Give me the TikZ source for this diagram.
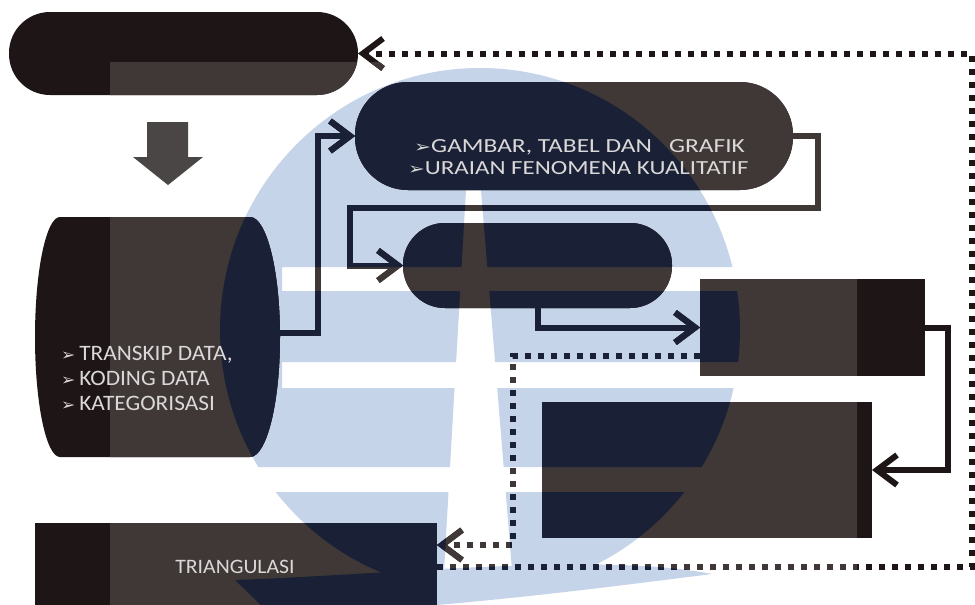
\documentclass[tikz,border=0pt]{standalone}
\usepackage{fontspec}
\setmainfont{Carlito}
\newfontfamily\dejavu{DejaVu Sans}
\usepackage{graphicx}
\usetikzlibrary{arrows.meta}
\definecolor{shK}{RGB}{30,21,22}
\definecolor{shG}{RGB}{63,56,55}
\definecolor{shN}{RGB}{26,33,54}
\definecolor{lblue}{RGB}{198,212,233}
\definecolor{arrgray}{RGB}{74,70,70}
\definecolor{txtc}{RGB}{218,216,216}
\tikzset{
  shapebox/.style={rectangle, inner sep=0pt, outer sep=0pt, draw=none},
  conn/.style={line width=6pt, -{Straight Barb[length=20pt,width=30pt]}},
  dotline/.style={line width=6pt, dash pattern=on 6pt off 7pt, -{Straight Barb[length=20pt,width=30pt]}},
  txt/.style={text=txtc, inner sep=0pt},
}
\newcommand\bul{{\dejavu\fontsize{16}{16}\selectfont ➢}}
\newcommand\logoslabs{%
  (200,55) rectangle (760,190)
  (200,190) -- (466,190) -- (461.5,267) -- (200,267) -- cycle
  (481,190) -- (760,190) -- (760,267) -- (487.3,267) -- cycle
  (200,267) rectangle (282,291)
  (200,291) -- (460.2,291) -- (456.1,362) -- (200,362) -- cycle
  (489.3,291) -- (760,291) -- (760,362) -- (495.1,362) -- cycle
  (200,362) rectangle (282,388)
  (200,388) -- (454.5,388) -- (450,467) -- (200,467) -- cycle
  (497.2,388) -- (760,388) -- (760,467) -- (503.7,467) -- cycle
  (200,492) -- (448.5,492) -- (441.7,612) -- (200,612) -- cycle
  (505.7,492) -- (760,492) -- (760,612) -- (515.4,612) -- cycle}
\newcommand\swooshpath{%
  (235,580) .. controls (400,574) and (600,552) .. (712,574)
  .. controls (600,588) and (420,612) .. (270,614) -- cycle}
\newcommand\drawdiagram[1]{%
  \node[shapebox, fill=#1, rounded corners=41pt, minimum width=349pt, minimum height=83pt] (top) at (183.5,53.5) {};
  \node[shapebox, fill=#1, rounded corners=53pt, minimum width=438pt, minimum height=108pt] (pill2) at (574,136) {};
  \node[shapebox, fill=#1, rounded corners=42pt, minimum width=269pt, minimum height=85pt] (pill3) at (537.5,265.5) {};
  \node[shapebox, fill=#1, minimum width=225pt, minimum height=97pt] (rect1) at (812.5,327.5) {};
  \node[shapebox, fill=#1, minimum width=330pt, minimum height=136pt] (box2) at (707,470) {};
  \node[shapebox, fill=#1, minimum width=402pt, minimum height=87pt] (tri) at (236,566.5) {};
  \fill[#1] (60,217) -- (250,217) .. controls (266.6,217) and (280,270.7) .. (280,337)
     .. controls (280,403.3) and (266.6,457) .. (250,457) -- (60,457)
     .. controls (46.2,457) and (35,403.3) .. (35,337)
     .. controls (35,270.7) and (46.2,217) .. (60,217) -- cycle;
  \node[shapebox, minimum width=245pt, minimum height=240pt] (cyl) at (157.5,333) {};
  \coordinate (bendA) at (818,208);
  \coordinate (bendB) at (350,208);
  \coordinate (rc) at (972,300);
  \draw[conn, draw=#1] (cyl.east) -- ++(38,0) |- (pill2.west);
  \draw[conn, draw=#1] (pill2.east) -| (bendA) -- (bendB) |- (pill3.west);
  \draw[conn, draw=#1] (pill3.south) |- (rect1.west);
  \draw[conn, draw=#1] (rect1.east) -- ++(23,0) |- (box2.east);
  \draw[dotline, draw=#1] ([yshift=-28.5pt]rect1.west) -- (513,356) |- ([yshift=21.5pt]tri.east);
  \draw[dotline, draw=#1] (tri.east) -| (rc) |- (top.east);
}
\begin{document}
\begin{tikzpicture}[x=1pt,y=-1pt]
\useasboundingbox (0,0) rectangle (975,605);
\fill[white] (0,0) rectangle (975,605);
% watermark background
\begin{scope}
  \clip (480,330) ellipse [x radius=260pt, y radius=262pt];
  \fill[lblue] \logoslabs;
\end{scope}
\fill[lblue] \swooshpath;
% diagram, plain
\drawdiagram{shK}
% washed band
\begin{scope}
  \clip (110,62) rectangle (857,612);
  \drawdiagram{shG}
\end{scope}
% under the watermark
\begin{scope}
  \clip (480,330) ellipse [x radius=260pt, y radius=262pt];
  \clip \logoslabs;
  \drawdiagram{shN}
\end{scope}
\begin{scope}
  \clip \swooshpath;
  \drawdiagram{shN}
\end{scope}
% block arrow
\fill[arrgray] (147,122) -- (188,122) -- (188,157) -- (203,157) -- (168,185) -- (133,157) -- (147,157) -- cycle;
% texts
\node[txt, anchor=base west, font=\fontsize{20}{24}\selectfont] (g1) at (414,152) {\scalebox{1.27}[1]{\bul GAMBAR, TABEL DAN\ \ \ GRAFIK}};
\node[txt, anchor=base west, font=\fontsize{20}{24}\selectfont] (g2) at (408,174) {\scalebox{1.245}[1]{\bul URAIAN FENOMENA KUALITATIF}};
\node[txt, anchor=base west, font=\fontsize{22}{26}\selectfont] (c1) at (61,360) {\scalebox{1.06}[1]{\bul\,TRANSKIP DATA,}};
\node[txt, anchor=base west, font=\fontsize{22}{26}\selectfont] (c2) at (61,385) {\scalebox{1.06}[1]{\bul\,KODING DATA}};
\node[txt, anchor=base west, font=\fontsize{22}{26}\selectfont] (c3) at (61,410) {\scalebox{1.06}[1]{\bul\,KATEGORISASI}};
\node[txt, anchor=base, font=\fontsize{20.5}{24}\selectfont] (tl) at (235,573) {\scalebox{1.06}[1]{TRIANGULASI}};
\end{tikzpicture}
\end{document}
